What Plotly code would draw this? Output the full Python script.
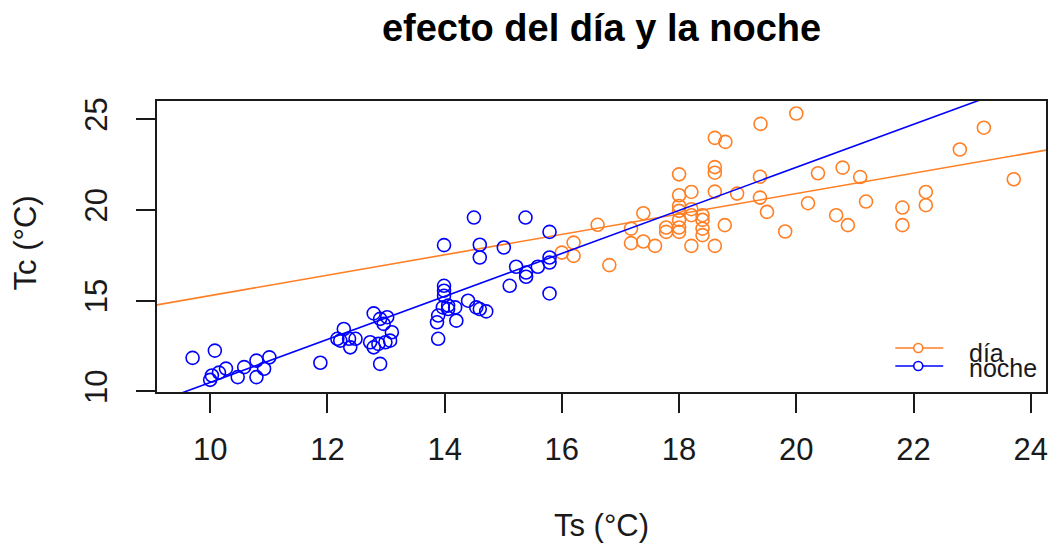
import numpy as np
import plotly.graph_objects as go

# Surface temperature (Ts) vs. core temperature (Tc), split by day / night
ts_dia = [16.00, 16.20, 16.20, 16.61, 16.81, 17.18, 17.18, 17.39, 17.39, 17.59,
          17.78, 17.78, 18.00, 18.00, 18.00, 18.00, 18.00, 18.00, 18.00, 18.21,
          18.21, 18.21, 18.21, 18.40, 18.40, 18.40, 18.40, 18.61, 18.61, 18.61,
          18.61, 18.61, 18.78, 18.79, 18.99, 19.38, 19.38, 19.39, 19.50, 19.81,
          20.00, 20.20, 20.37, 20.68, 20.79, 20.88, 21.09, 21.19, 21.81, 21.81,
          22.21, 22.21, 22.79, 23.20, 23.71]
tc_dia = [17.65, 18.20, 17.47, 19.18, 16.96, 18.97, 18.17, 19.82, 18.26, 18.02,
          19.03, 18.79, 21.96, 20.81, 20.22, 19.95, 19.45, 19.03, 18.79, 20.99,
          20.04, 19.71, 18.02, 19.71, 19.45, 18.97, 18.61, 23.97, 22.36, 22.05,
          21.01, 18.02, 19.16, 23.75, 20.90, 21.83, 20.68, 24.74, 19.89, 18.81,
          25.31, 20.37, 22.02, 19.71, 22.33, 19.16, 21.81, 20.46, 20.13, 19.16,
          20.99, 20.26, 23.33, 24.53, 21.69]

ts_noche = [9.70, 10.08, 10.00, 10.03, 10.15, 10.27, 10.47, 10.58, 10.79, 10.79,
            10.92, 11.01, 11.88, 12.17, 12.22, 12.28, 12.37, 12.39, 12.48, 12.73,
            12.79, 12.79, 12.87, 12.90, 12.90, 12.96, 12.99, 13.02, 13.07, 13.10,
            13.87, 13.89, 13.89, 13.97, 13.99, 13.99, 13.99, 13.99, 14.06, 14.06,
            14.18, 14.20, 14.40, 14.50, 14.54, 14.60, 14.60, 14.60, 14.71, 15.01,
            15.11, 15.22, 15.38, 15.39, 15.39, 15.59, 15.79, 15.79, 15.79, 15.79]
tc_noche = [11.85, 12.25, 10.64, 10.88, 11.04, 11.26, 10.79, 11.34, 11.70, 10.79,
            11.25, 11.88, 11.58, 12.90, 12.80, 13.44, 12.90, 12.43, 12.90, 12.71,
            14.30, 12.43, 12.62, 14.00, 11.52, 13.72, 12.71, 14.09, 12.80, 13.26,
            13.81, 14.18, 12.90, 14.63, 15.27, 15.55, 15.82, 18.06, 14.73, 14.54,
            14.63, 13.90, 15.00, 19.58, 14.63, 18.08, 17.38, 14.54, 14.41, 17.93,
            15.82, 16.87, 19.58, 16.55, 16.32, 16.87, 18.79, 17.38, 17.10, 15.40]

# Fitted regression lines (intercept, slope) for each group
fit_dia = [9.66, 0.562]
fit_noche = [-1.357, 1.185]

x_ticks = [10, 12, 14, 16, 18, 20, 22, 24]
y_ticks = [10, 15, 20, 25]

ORANGE = "#FF7F24"
BLUE = "#0000FF"
FONT = "Liberation Sans, Arial, sans-serif"
INK = "#1a1a1a"

x_range = [9.093, 24.26]
y_range = [9.97, 26.0]

fig = go.Figure()


def add_group(xs, ys, fit, color):
    fig.add_trace(go.Scatter(
        x=xs, y=ys, mode="markers", showlegend=False,
        marker=dict(symbol="circle-open", size=13, color=color,
                    line=dict(width=1.6, color=color)),
    ))
    # regression line spanning the whole plotting region (clipped by the axes)
    intercept, slope = fit
    lx = np.array([x_range[0] - 1, x_range[1] + 1])
    fig.add_trace(go.Scatter(
        x=lx, y=intercept + slope * lx, mode="lines", showlegend=False,
        line=dict(color=color, width=1.6),
    ))


add_group(ts_dia, tc_dia, fit_dia, ORANGE)
add_group(ts_noche, tc_noche, fit_noche, BLUE)

axis_common = dict(
    showgrid=False, zeroline=False,
    showline=True, mirror=True, linecolor=INK, linewidth=2,
    ticks="outside", ticklen=19, tickwidth=2, tickcolor=INK,
    tickfont=dict(family=FONT, size=31, color=INK),
)

fig.update_xaxes(range=x_range, tickvals=x_ticks, ticklabelstandoff=10,
                 **axis_common)
fig.update_yaxes(range=y_range, tickvals=y_ticks, tickangle=-90,
                 ticklabelstandoff=17, **axis_common)

# Legend drawn by hand: short line with a small open circle, then the label
leg_x0, leg_x1, leg_xc = 0.8305, 0.8844, 0.8563
legend_rows = [("día", ORANGE, 0.1512, 0.133), ("noche", BLUE, 0.0893, 0.082)]
shapes = []
annotations = []
for label, color, ly, ty in legend_rows:
    shapes.append(dict(type="line", xref="paper", yref="paper",
                       x0=leg_x0, x1=leg_x1, y0=ly, y1=ly,
                       line=dict(color=color, width=1.6)))
    shapes.append(dict(type="circle", xref="paper", yref="paper",
                       xsizemode="pixel", ysizemode="pixel",
                       xanchor=leg_xc, yanchor=ly,
                       x0=-4.5, x1=4.5, y0=-4.5, y1=4.5,
                       fillcolor="white", line=dict(color=color, width=1.6)))
    annotations.append(dict(text=label, xref="paper", yref="paper",
                            x=0.9113, y=ty, xanchor="left", yanchor="middle",
                            showarrow=False,
                            font=dict(family=FONT, size=25, color=INK)))

annotations.append(dict(text="Ts (°C)", xref="paper", yref="paper",
                        x=0.5, y=-0.460, xanchor="center", yanchor="middle",
                        showarrow=False,
                        font=dict(family=FONT, size=31, color=INK)))
annotations.append(dict(text="Tc (°C)", xref="paper", yref="paper",
                        x=-0.148, y=0.512, xanchor="center", yanchor="middle",
                        textangle=-90, showarrow=False,
                        font=dict(family=FONT, size=31, color=INK)))

fig.update_layout(
    width=1055, height=550,
    margin=dict(l=157, r=7, t=101, b=158),
    paper_bgcolor="white", plot_bgcolor="white",
    title=dict(text="<b>efecto del día y la noche</b>",
               x=0.5, xref="paper", xanchor="center",
               y=1 - 28 / 550, yref="container", yanchor="middle",
               font=dict(family=FONT, size=38, color="black")),
    shapes=shapes, annotations=annotations,
)

fig.write_html("out.html")
